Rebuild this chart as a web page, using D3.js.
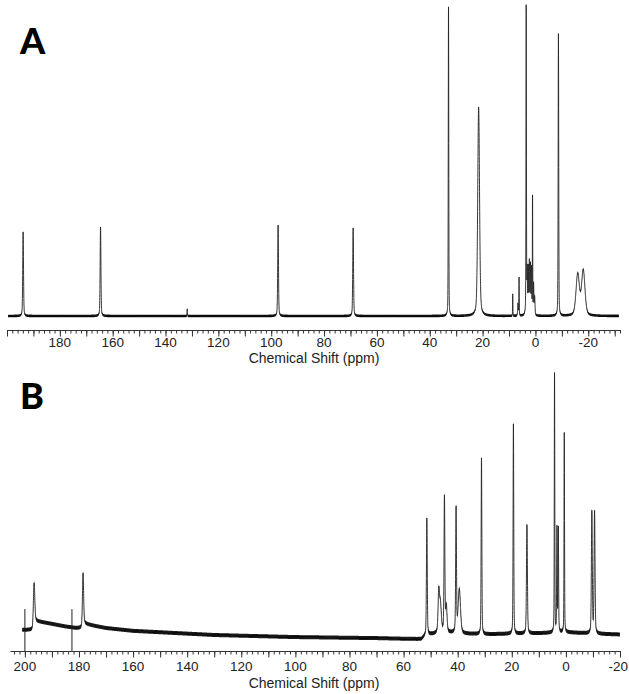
<!DOCTYPE html>
<html><head><meta charset="utf-8">
<script src="https://cdn.jsdelivr.net/npm/d3@7"></script>
<style>body{margin:0;background:#fff}svg{display:block}</style>
</head><body>
<svg id="c" width="629" height="694"></svg>
<script>
// ---------- data ----------
// Panel A peaks: position (ppm), relative height, line width (ppm)
const peakPpmA    = [193.9, 164.6, 131.8, 97.4, 69.0, 32.9, 21.5, 8.6, 6.6, 6.2, 3.5, 3.1, 2.7, 2.3, 1.9, 1.5, 1.1, 0.7, 0.3, -8.7, -16.0, -18.1];
const peakHeightA = [27.2, 28.8, 2.3, 29.4, 28.5, 100, 67.6, 7.1, 4, 12.3, 100, 14, 15, 17, 16, 15, 38, 10, 6, 91.3, 13.4, 14.6];
const peakWidthA  = [0.35, 0.35, 0.15, 0.35, 0.35, 0.22, 0.8, 0.12, 0.3, 0.15, 0.2, 0.25, 0.25, 0.25, 0.25, 0.25, 0.15, 0.25, 0.3, 0.25, 1.5, 1.5];

// Panel B peaks
const peakPpmB    = [196.6, 178.5, 51.4, 47.0, 46.4, 44.9, 44.2, 40.6, 39.4, 31.2, 19.4, 14.4, 4.2, 3.3, 2.8, 0.6, -9.6, -10.6];
const peakHeightB = [15.5, 20, 45, 15, 11, 52, 10, 48, 17, 68, 81, 42, 100, 40, 40, 77, 47, 47];
const peakWidthB  = [0.6, 0.5, 0.35, 0.6, 0.8, 0.35, 0.6, 0.35, 1.0, 0.3, 0.28, 0.4, 0.22, 0.25, 0.25, 0.22, 0.4, 0.4];

// Panel B baseline level (ppm -> relative level)
const baselinePpmB   = [201, 197.2, 196.4, 190, 185, 181, 179, 178.3, 174, 170, 160, 145, 130, 100, 70, 53.5, 51.8, 45, 38, 30, 20, 10, 0, -10, -20];
const baselineLevelB = [2.0, 2.0, 5.5, 4.3, 3.3, 2.7, 2.7, 4.5, 3.5, 2.7, 1.6, 0.8, 0, -0.8, -1.2, -1.6, 0.0, 1.0, 0.5, 0.3, 0.5, 0.7, 1.1, 0.5, 0.2];

// Panel B marker lines
const markerPpmB = [200, 182.6];
const markerTopB = [10, 10];

// Axis tick labels
const tickLabelsA = [180, 160, 140, 120, 100, 80, 60, 40, 20, 0, -20];
const tickLabelsB = [200, 180, 160, 140, 120, 100, 80, 60, 40, 20, 0, -20];
const axisTitle = "Chemical Shift (ppm)";

// ---------- drawing ----------
const svg = d3.select("#c");
svg.append("rect").attr("width", 629).attr("height", 694).attr("fill", "#fff");

const ETA = 0.35;
function pv(x, x0, h, w) {
  const d = (x - x0) / (w / 2);
  return h * (ETA / (1 + d * d) + (1 - ETA) * Math.exp(-Math.LN2 * d * d));
}
function spectrum(grid, ppm, hts, wds, base) {
  return grid.map(x => {
    let v = base(x);
    for (let i = 0; i < ppm.length; i++) {
      if (Math.abs(x - ppm[i]) < 40 * wds[i]) v += pv(x, ppm[i], hts[i], wds[i]);
    }
    return {x, v};
  });
}

function drawPanel(cfg) {
  const g = svg.append("g");
  const x = cfg.x, y = cfg.y;
  const data = spectrum(cfg.grid, cfg.ppm, cfg.hts, cfg.wds, cfg.base);
  // noise band
  g.append("path").datum(data)
    .attr("d", d3.area().x(d => x(d.x)).y0(d => y(d.v) - cfg.band).y1(d => y(d.v) + cfg.band))
    .attr("fill", "#1a1a1a");
  g.append("path").datum(data)
    .attr("d", d3.line().x(d => x(d.x)).y(d => y(d.v)))
    .attr("fill", "none").attr("stroke", "#222").attr("stroke-width", 0.9);

  // axis comb
  const [d0, d1] = x.domain();
  const minor = d3.range(Math.floor(d0 / 2) * 2, d1 - 0.01, -2).filter(v => v <= d0 && v >= d1);
  const major = minor.filter(v => v % 10 === 0);
  const ax = g.append("g").attr("transform", `translate(0,${cfg.axisY})`);
  ax.call(d3.axisBottom(x).tickValues(minor).tickSize(3.5).tickSizeOuter(0).tickFormat(""));
  ax.select(".domain").attr("stroke", "#333").attr("stroke-width", 1.2);
  ax.selectAll(".tick line").attr("stroke", "#333").attr("stroke-width", 1);
  const ax2 = g.append("g").attr("transform", `translate(0,${cfg.axisY})`);
  ax2.call(d3.axisBottom(x).tickValues(major).tickSize(6.5).tickSizeOuter(0).tickFormat(""));
  ax2.select(".domain").remove();
  ax2.selectAll(".tick line").attr("stroke", "#333").attr("stroke-width", 1);

  // labels
  g.selectAll("text.tl").data(cfg.labels).join("text")
    .attr("x", d => x(d)).attr("y", cfg.labelY)
    .attr("text-anchor", (d, i) => (cfg.lastEnd && i === cfg.labels.length - 1) ? "end" : "middle")
    .attr("dx", (d, i) => (cfg.lastEnd && i === cfg.labels.length - 1) ? 8 : 0)
    .attr("font-family", "'Liberation Sans', Arial, sans-serif").attr("font-size", 13.5)
    .attr("fill", "#222").text(d => d);
  g.append("text").attr("x", cfg.titleX).attr("y", cfg.titleY).attr("text-anchor", "middle")
    .attr("font-family", "'Liberation Sans', Arial, sans-serif").attr("font-size", 14)
    .attr("fill", "#222").text(axisTitle);
  g.append("text").attr("x", 20).attr("y", cfg.letterY)
    .attr("font-family", "Lato, 'DejaVu Sans', sans-serif").attr("font-weight", 900).attr("font-size", 36)
    .attr("fill", "#000").text(cfg.letter);
  return g;
}

// Panel A
const xA = d3.scaleLinear().domain([200, -32]).range([7, 620]);
const yA = d3.scaleLinear().domain([0, 100]).range([316, 7]);
drawPanel({
  x: xA, y: yA, grid: d3.range(199.6, -31.6, -0.02),
  ppm: peakPpmA, hts: peakHeightA, wds: peakWidthA, base: () => 0,
  band: 1.3, axisY: 330, labels: tickLabelsA, labelY: 347, titleX: 314, titleY: 363,
  letter: "A", letterY: 54
});

// Panel B
const xB = d3.scaleLinear().domain([205.5, -20]).range([10, 620]);
const yB = d3.scaleLinear().domain([0, 100]).range([635, 376]);
const baseB = d3.scaleLinear().domain(baselinePpmB).range(baselineLevelB).clamp(true);
const gB = drawPanel({
  x: xB, y: yB, grid: d3.range(201, -20, -0.02),
  ppm: peakPpmB, hts: peakHeightB, wds: peakWidthB, base: v => baseB(v),
  band: 2.0, axisY: 651, labels: tickLabelsB, labelY: 671, lastEnd: true, titleX: 314, titleY: 688,
  letter: "B", letterY: 409
});
gB.selectAll("line.marker").data(markerPpmB).join("line").attr("class", "marker")
  .attr("x1", d => xB(d)).attr("x2", d => xB(d))
  .attr("y1", (d, i) => yB(markerTopB[i])).attr("y2", 651)
  .attr("stroke", "#222").attr("stroke-width", 1);
</script>
</body></html>
